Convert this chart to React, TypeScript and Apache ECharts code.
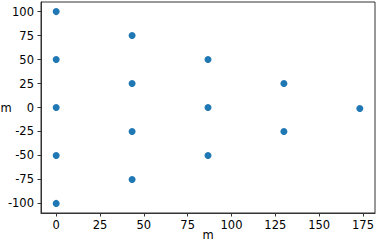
import React, { useEffect, useRef } from "react";
import * as echarts from "echarts";

const xValues = [0, 0, 0, 0, 0, 43.3, 43.3, 43.3, 43.3, 86.6, 86.6, 86.6, 129.9, 129.9, 173.2];
const yValues = [100, 50, 0, -50, -100, 75, 25, -25, -75, 50, 0, -50, 25, -25, -1];
const xTicks = [0, 25, 50, 75, 100, 125, 150, 175];
const yTicks = [-100, -75, -50, -25, 0, 25, 50, 75, 100];
const xLabel = "m";
const yLabel = "m";

export default function App() {
  const ref = useRef<HTMLDivElement>(null);
  useEffect(() => {
    document.body.style.margin = "0";
    const chart = echarts.init(ref.current!, null, { renderer: "svg" });
    const font = "DejaVu Sans";
    const axisColor = "#333";
    const fs = 11.5;
    chart.setOption({
      animation: false,
      grid: {
        left: 41, right: 3, top: 2, bottom: 28,
        outerBoundsMode: "none", containLabel: false,
        show: true, borderColor: axisColor, borderWidth: 1, backgroundColor: "transparent",
      },
      xAxis: {
        type: "value",
        min: -8.66,
        max: 181.86,
        name: xLabel,
        nameLocation: "middle",
        nameGap: 22,
        nameMoveOverlap: false,
        nameTextStyle: { fontFamily: font, fontSize: fs, color: "#000", verticalAlign: "middle", align: "center" },
        axisLine: { show: true, onZero: false, lineStyle: { color: axisColor, width: 1 } },
        axisTick: { show: true, inside: false, length: 3.5, lineStyle: { color: axisColor }, customValues: xTicks },
        axisLabel: { fontFamily: font, fontSize: fs, color: "#000", margin: 6, customValues: xTicks },
        splitLine: { show: false },
      },
      yAxis: {
        type: "value",
        min: -110,
        max: 110,
        name: yLabel,
        nameLocation: "middle",
        nameRotate: 0,
        nameGap: 35,
        nameMoveOverlap: false,
        nameTextStyle: { fontFamily: font, fontSize: fs, color: "#000", verticalAlign: "middle", align: "center" },
        axisLine: { show: true, onZero: false, lineStyle: { color: axisColor, width: 1 } },
        axisTick: { show: true, inside: false, length: 3.5, lineStyle: { color: axisColor }, customValues: yTicks },
        axisLabel: { fontFamily: font, fontSize: fs, color: "#000", margin: 7, customValues: yTicks },
        splitLine: { show: false },
      },
      series: [
        {
          type: "scatter",
          data: xValues.map((x, i) => [x, yValues[i]]),
          symbolSize: 7,
          itemStyle: { color: "#1f77b4", opacity: 1 },
        },
      ],
    });
    return () => chart.dispose();
  }, []);
  return <div ref={ref} style={{ width: 378, height: 241 }} />;
}
